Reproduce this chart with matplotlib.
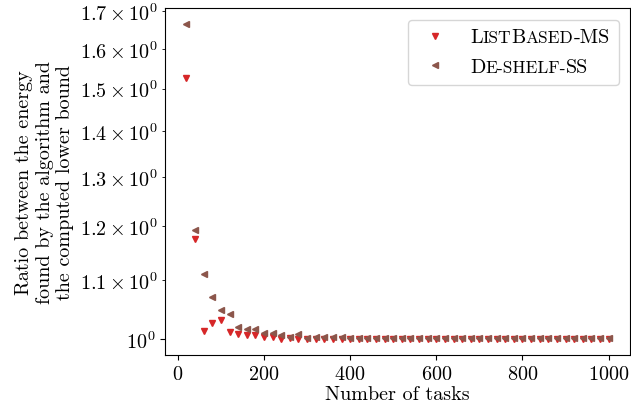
import numpy as np
import matplotlib
matplotlib.use("Agg")
import matplotlib.pyplot as plt
from matplotlib.lines import Line2D
from matplotlib.offsetbox import AnchoredOffsetbox, HPacker, VPacker, TextArea, DrawingArea

# number of tasks
tasks = list(range(20, 1001, 20))

# ratio ListBased-MS / lower bound
listbased_ms = [1.526, 1.176, 1.0135, 1.026, 1.031, 1.012, 1.009, 1.007, 1.006, 1.004,
                1.003, 1.000, 1.002, 1.0005, 1.000, 1.000, 1.001, 1.000, 1.001, 1.000,
                1.001, 1.000, 1.000, 1.001, 1.000, 1.000, 1.000, 1.000, 1.000, 1.000,
                1.000, 1.000, 1.000, 1.000, 1.000, 1.000, 1.000, 1.000, 1.000, 1.000,
                1.000, 1.000, 1.000, 1.000, 1.000, 1.000, 1.000, 1.000, 1.000, 1.000]

# ratio De-shelf-SS / lower bound
deshelf_ss = [1.665, 1.194, 1.111, 1.070, 1.049, 1.041, 1.020, 1.017, 1.016, 1.010,
              1.010, 1.007, 1.004, 1.009, 1.0016, 1.003, 1.004, 1.003, 1.003, 1.002,
              1.002, 1.002, 1.002, 1.002, 1.002, 1.002, 1.002, 1.002, 1.002, 1.002,
              1.002, 1.002, 1.002, 1.002, 1.002, 1.002, 1.002, 1.002, 1.002, 1.002,
              1.002, 1.002, 1.002, 1.002, 1.002, 1.002, 1.002, 1.002, 1.002, 1.002]

red = "#d62728"
brown = "#8c564b"
fs = 14.5

plt.rcParams["font.family"] = "serif"
plt.rcParams["font.serif"] = ["cmr10"]
plt.rcParams["mathtext.fontset"] = "cm"
plt.rcParams["axes.formatter.use_mathtext"] = True
plt.rcParams["axes.unicode_minus"] = False
plt.rcParams["font.size"] = fs

fig = plt.figure(figsize=(6.31, 4.10), dpi=100)
ax = fig.add_axes([0.262, 0.132, 0.736, 0.845])

ax.plot(tasks, listbased_ms, linestyle="none", marker="v", markersize=4.5, color=red)
ax.plot(tasks, deshelf_ss, linestyle="none", marker="<", markersize=4.5, color=brown)
ax.set_yscale("log")

ax.set_xlabel("Number of tasks", labelpad=2)
ax.set_ylabel("Ratio between the energy\nfound by the algorithm and\nthe computed lower bound",
              labelpad=4)
ax.set_xticks([0, 200, 400, 600, 800, 1000])


# legend with fake small caps
def smallcaps_row(parts, color, marker):
    da = DrawingArea(38, 10, 0, 0)
    da.add_artist(Line2D([13], [5], linestyle="none", marker=marker, markersize=4, color=color))
    boxes = [da]
    for txt, big in parts:
        boxes.append(TextArea(txt, textprops=dict(size=fs if big else 12.5)))
    return HPacker(children=boxes, align="baseline", pad=0, sep=0)


row1 = smallcaps_row([("L", True), ("IST", False), ("B", True), ("ASED", False), ("-MS", True)], red, "v")
row2 = smallcaps_row([("D", True), ("E-SHELF-", False), ("SS", True)], brown, "<")
box = VPacker(children=[row1, row2], align="left", pad=0, sep=8)
anchored = AnchoredOffsetbox(loc="upper right", child=box, pad=0.45, borderpad=0.55,
                             frameon=True, prop=dict(size=fs))
anchored.patch.set_boxstyle("round,pad=0,rounding_size=0.2")
anchored.patch.set_edgecolor("0.8")
anchored.patch.set_alpha(0.8)
ax.add_artist(anchored)

plt.savefig("out.png", dpi=100)
